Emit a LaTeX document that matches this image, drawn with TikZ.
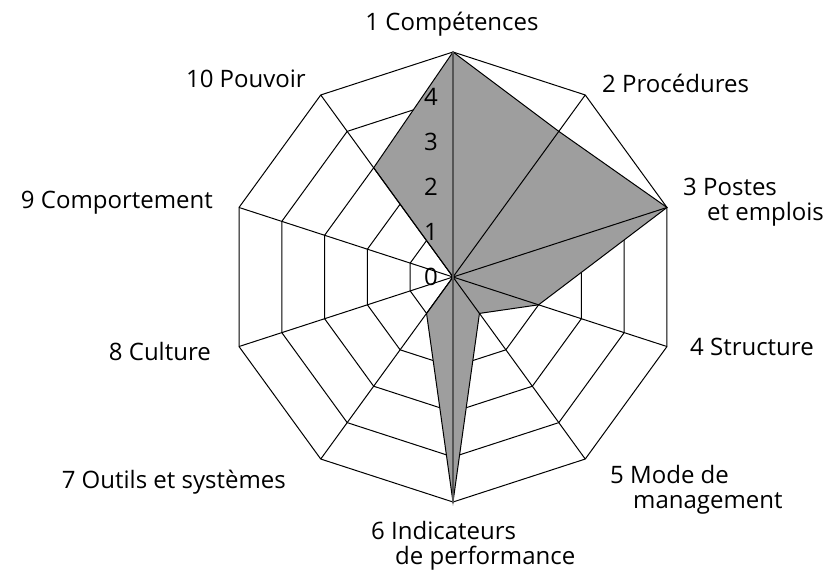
\documentclass[tikz,border=0pt]{standalone}
\usepackage{fontspec}
\setmainfont{Open Sans}
\usepackage{tikz}
\usetikzlibrary{positioning}
\definecolor{radargray}{RGB}{158,158,158}
\definecolor{axisgray}{RGB}{85,85,85}

\begin{document}
\begin{tikzpicture}[x=1pt, y=1pt,
    ring/.style={draw=black, line width=1pt, line join=miter},
    spoke/.style={draw=black, line width=1pt},
    area/.style={fill=radargray, draw=black, line width=1pt},
    lab/.style={font=\fontsize{24}{25}\selectfont, inner sep=0pt, align=left},
    val/.style={font=\fontsize{24}{25}\selectfont, inner sep=0pt}
]
    \useasboundingbox (-453,-299) rectangle (377,277);
    \coordinate (O) at (0,0);
    \foreach \k in {1,...,10}
        \coordinate (ax\k) at ({90-36*(\k-1)}:225);
    \foreach \v [count=\k] in {5,4,5,2,1,5,1,0,0,3}
        \coordinate (d\k) at ({90-36*(\k-1)}:{45*\v});

    % rings
    \foreach \r in {45,90,...,225}
        \draw[ring] (90:\r) \foreach \k in {1,...,9} { -- ({90-36*\k}:\r) } -- cycle;

    % data
    \draw[area] (d1) -- (d2) -- (d3) -- (d4) -- (d5) -- (d6) -- (d7)
        -- (d8) -- (d9) -- (d10) -- cycle;

    % spokes
    \foreach \k in {2,3,4,5,7,8,9,10}
        \draw[spoke] (O) -- (ax\k);
    \draw[line width=2pt, axisgray] (ax6) -- (ax1);

    % scale
    \foreach \n in {0,...,4}
        \node[val] (s\n) at (-22,45*\n) {\n};

    % labels
    \node[lab, anchor=base]      (c1)  at (-1,246)   {1 Compétences};
    \node[lab, anchor=base west] (c2)  at (149,184)  {2 Procédures};
    \node[lab, anchor=base west] (c3)  at (230,57)   {3 Postes\\\hspace*{24pt}et emplois};
    \node[lab, anchor=base west] (c4)  at (237,-78)  {4 Structure};
    \node[lab, anchor=base west] (c5)  at (157,-231) {5 Mode de\\\hspace*{23pt}management};
    \node[lab, anchor=base west] (c6)  at (-82,-287) {6 Indicateurs\\\hspace*{24pt}de performance};
    \node[lab, anchor=base east] (c7)  at (-167,-211) {7 Outils et systèmes};
    \node[lab, anchor=base east] (c8)  at (-242,-83) {8 Culture};
    \node[lab, anchor=base east] (c9)  at (-240,69)  {9 Comportement};
    \node[lab, anchor=base east] (c10) at (-147,189) {10 Pouvoir};
\end{tikzpicture}
\end{document}
